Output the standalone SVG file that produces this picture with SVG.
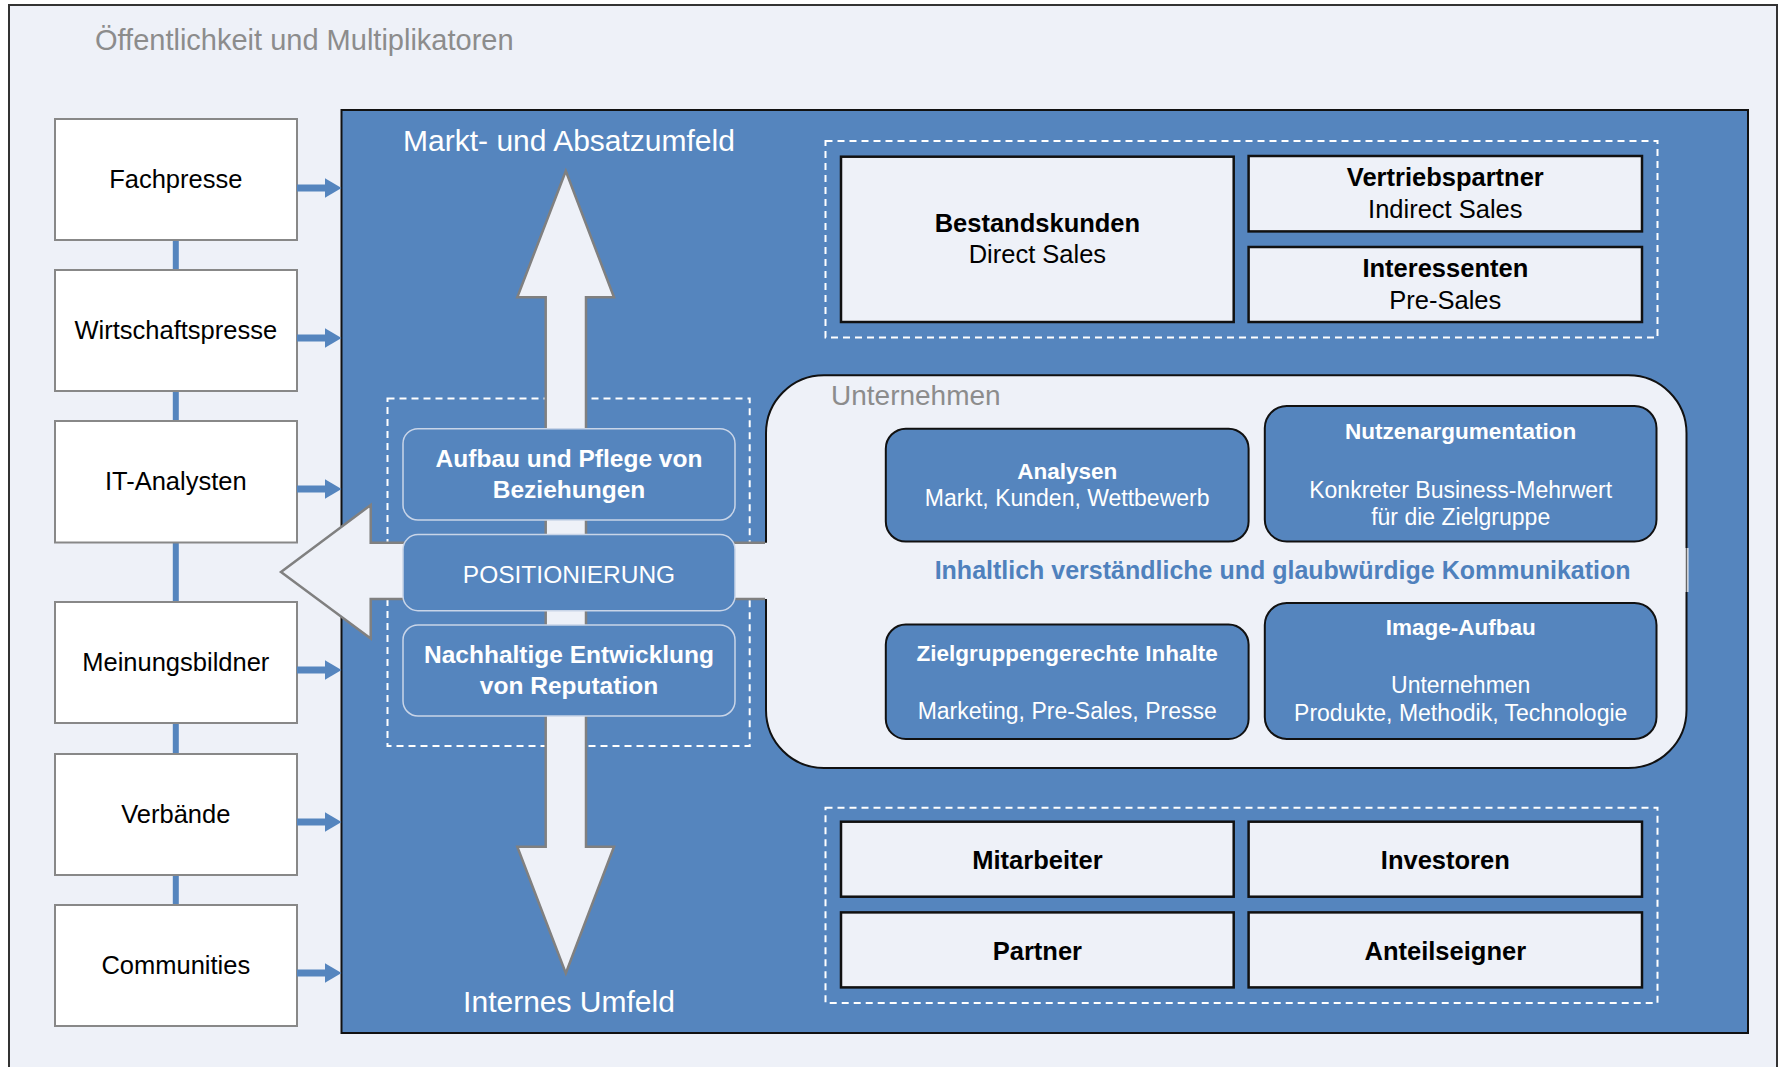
<svg xmlns="http://www.w3.org/2000/svg" width="1783" height="1067" viewBox="0 0 1783 1067">
<style>
text{font-family:"Liberation Sans",Arial,sans-serif}
.side{fill:#fff;stroke:#888;stroke-width:2}
.sidet{font-size:25.5px;fill:#000;text-anchor:middle}
.sh{fill:#EEF1F8;stroke:#111;stroke-width:2.5}
.shb{font-size:25.5px;font-weight:bold;fill:#000;text-anchor:middle}
.shr{font-size:25.5px;fill:#000;text-anchor:middle}
.dash{fill:none;stroke:#fff;stroke-width:2;stroke-dasharray:7 5}
.card{fill:#5585BE;stroke:#111;stroke-width:2}
.cb{font-size:22.5px;font-weight:bold;fill:#fff;text-anchor:middle}
.cr{font-size:23px;fill:#fff;text-anchor:middle}
.pos{fill:#5585BE;stroke:#c9d5e8;stroke-width:1.5}
.pt{font-size:24.5px;font-weight:bold;fill:#fff;text-anchor:middle}
.big{font-size:30px;fill:#fff;text-anchor:middle}
.conn{stroke:#5585BE;stroke-width:7}
</style>
<defs>
<marker id="ah" markerUnits="userSpaceOnUse" markerWidth="18" markerHeight="22" refX="0.5" refY="10" orient="auto">
<path d="M0,0 L17,10 L0,20 z" fill="#5585BE"/>
</marker>
</defs>
<rect id="outer" x="9" y="5" width="1768" height="1100" fill="#EEF1F8" stroke="#333" stroke-width="2"/>
<text x="95" y="50" font-size="29" fill="#8c8c8c">Öffentlichkeit und Multiplikatoren</text>

<g id="connectors">
<line x1="175.8" y1="240" x2="175.8" y2="905" stroke="#5585BE" stroke-width="6"/>
</g>

<g id="fachpresse"><rect class="side" x="55" y="119" width="242" height="121"/><text class="sidet" x="175.8" y="188">Fachpresse</text></g>
<g id="wirtschaftspresse"><rect class="side" x="55" y="270" width="242" height="121"/><text class="sidet" x="175.8" y="339">Wirtschaftspresse</text></g>
<g id="it-analysten"><rect class="side" x="55" y="421" width="242" height="121.5"/><text class="sidet" x="175.8" y="490">IT-Analysten</text></g>
<g id="meinungsbildner"><rect class="side" x="55" y="602" width="242" height="121"/><text class="sidet" x="175.8" y="671">Meinungsbildner</text></g>
<g id="verbaende"><rect class="side" x="55" y="754" width="242" height="121"/><text class="sidet" x="175.8" y="823">Verbände</text></g>
<g id="communities"><rect class="side" x="55" y="905" width="242" height="121"/><text class="sidet" x="175.8" y="974">Communities</text></g>

<g id="markt">
<rect x="341.5" y="110" width="1406.5" height="923" fill="#5585BE" stroke="#111" stroke-width="2"/>
</g>

<g id="arrows">
<line class="conn" x1="297" y1="188" x2="325" y2="188" marker-end="url(#ah)"/>
<line class="conn" x1="297" y1="338" x2="325" y2="338" marker-end="url(#ah)"/>
<line class="conn" x1="297" y1="489" x2="325" y2="489" marker-end="url(#ah)"/>
<line class="conn" x1="297" y1="670" x2="325" y2="670" marker-end="url(#ah)"/>
<line class="conn" x1="297" y1="822" x2="325" y2="822" marker-end="url(#ah)"/>
<line class="conn" x1="297" y1="973" x2="325" y2="973" marker-end="url(#ah)"/>
</g>

<text class="big" x="569" y="151">Markt- und Absatzumfeld</text>
<text class="big" x="569" y="1012">Internes Umfeld</text>

<g id="top-group">
<rect class="dash" x="825.5" y="141" width="832" height="196.5"/>
<g id="bestandskunden"><rect class="sh" x="841" y="156.7" width="392.7" height="165.3"/><text class="shb" x="1037.4" y="232.4">Bestandskunden</text><text class="shr" x="1037.4" y="263.4">Direct Sales</text></g>
<g id="vertriebspartner"><rect class="sh" x="1248.6" y="156" width="393.4" height="75.4"/><text class="shb" x="1445.3" y="186">Vertriebspartner</text><text class="shr" x="1445.3" y="217.6">Indirect Sales</text></g>
<g id="interessenten"><rect class="sh" x="1248.6" y="247" width="393.4" height="75"/><text class="shb" x="1445.3" y="277">Interessenten</text><text class="shr" x="1445.3" y="309">Pre-Sales</text></g>
</g>

<g id="bottom-group">
<rect class="dash" x="825.5" y="807.8" width="832" height="195.2"/>
<g id="mitarbeiter"><rect class="sh" x="841" y="821.7" width="392.7" height="75"/><text class="shb" x="1037.4" y="868.8">Mitarbeiter</text></g>
<g id="investoren"><rect class="sh" x="1248.6" y="821.7" width="393.4" height="75"/><text class="shb" x="1445.3" y="868.8">Investoren</text></g>
<g id="partner"><rect class="sh" x="841" y="912.4" width="392.7" height="75"/><text class="shb" x="1037.4" y="959.5">Partner</text></g>
<g id="anteilseigner"><rect class="sh" x="1248.6" y="912.4" width="393.4" height="75"/><text class="shb" x="1445.3" y="959.5">Anteilseigner</text></g>
</g>

<g id="unternehmen">
<rect x="766" y="375.3" width="920.5" height="392.7" rx="58" ry="58" fill="#EEF1F8" stroke="#111" stroke-width="2"/>
<rect x="1684.5" y="548" width="4" height="44" fill="#EEF1F8"/>
<line x1="1686.5" y1="548" x2="1686.5" y2="592" stroke="#666" stroke-width="1.5"/>
<text x="831" y="404.6" font-size="28" fill="#8c8c8c">Unternehmen</text>
</g>

<rect class="dash" x="387.5" y="398.4" width="362.2" height="347.6"/>

<g id="vertical-arrow">
<polygon points="565.8,171 614,297.3 586,297.3 586,846.7 614,846.7 565.8,973.3 517.3,846.7 545.7,846.7 545.7,297.3 517.3,297.3" fill="#EEF1F8" stroke="#808080" stroke-width="2.5"/>
</g>

<g id="left-arrow">
<polygon points="768,542.7 370.7,542.7 370.7,505 281,572 370.7,638.5 370.7,599 768,599" fill="#EEF1F8"/>
<polyline points="765,542.7 370.7,542.7 370.7,505 281,572 370.7,638.5 370.7,599 765,599" fill="none" stroke="#808080" stroke-width="2.5"/>
</g>

<g id="aufbau"><rect class="pos" x="403" y="428.7" width="332" height="91.3" rx="15"/><text class="pt" x="569" y="467">Aufbau und Pflege von</text><text class="pt" x="569" y="498">Beziehungen</text></g>
<g id="positionierung"><rect class="pos" x="403" y="534.6" width="332" height="76.1" rx="15"/><text x="569" y="582.5" font-size="24.5" fill="#fff" text-anchor="middle">POSITIONIERUNG</text></g>
<g id="nachhaltige"><rect class="pos" x="403" y="625" width="332" height="91" rx="15"/><text class="pt" x="569" y="663">Nachhaltige Entwicklung</text><text class="pt" x="569" y="694.4">von Reputation</text></g>

<g id="analysen"><rect class="card" x="885.8" y="428.7" width="362.8" height="112.9" rx="20"/><text class="cb" x="1067.2" y="478.6">Analysen</text><text class="cr" x="1067.2" y="506">Markt, Kunden, Wettbewerb</text></g>
<g id="nutzen"><rect class="card" x="1264.8" y="406" width="391.7" height="135.6" rx="22"/><text class="cb" x="1460.7" y="439">Nutzenargumentation</text><text class="cr" x="1460.7" y="497.6">Konkreter Business-Mehrwert</text><text class="cr" x="1460.7" y="525">für die Zielgruppe</text></g>
<g id="zielgruppen"><rect class="card" x="885.8" y="624.6" width="362.8" height="114.4" rx="20"/><text class="cb" x="1067.2" y="661">Zielgruppengerechte Inhalte</text><text class="cr" x="1067.2" y="718.8">Marketing, Pre-Sales, Presse</text></g>
<g id="image"><rect class="card" x="1264.8" y="603" width="391.7" height="136" rx="22"/><text class="cb" x="1460.7" y="635">Image-Aufbau</text><text class="cr" x="1460.7" y="692.6">Unternehmen</text><text class="cr" x="1460.7" y="720.6">Produkte, Methodik, Technologie</text></g>

<text x="1282.6" y="579.3" font-size="25" font-weight="bold" fill="#4F81BD" text-anchor="middle">Inhaltlich verständliche und glaubwürdige Kommunikation</text>
</svg>
